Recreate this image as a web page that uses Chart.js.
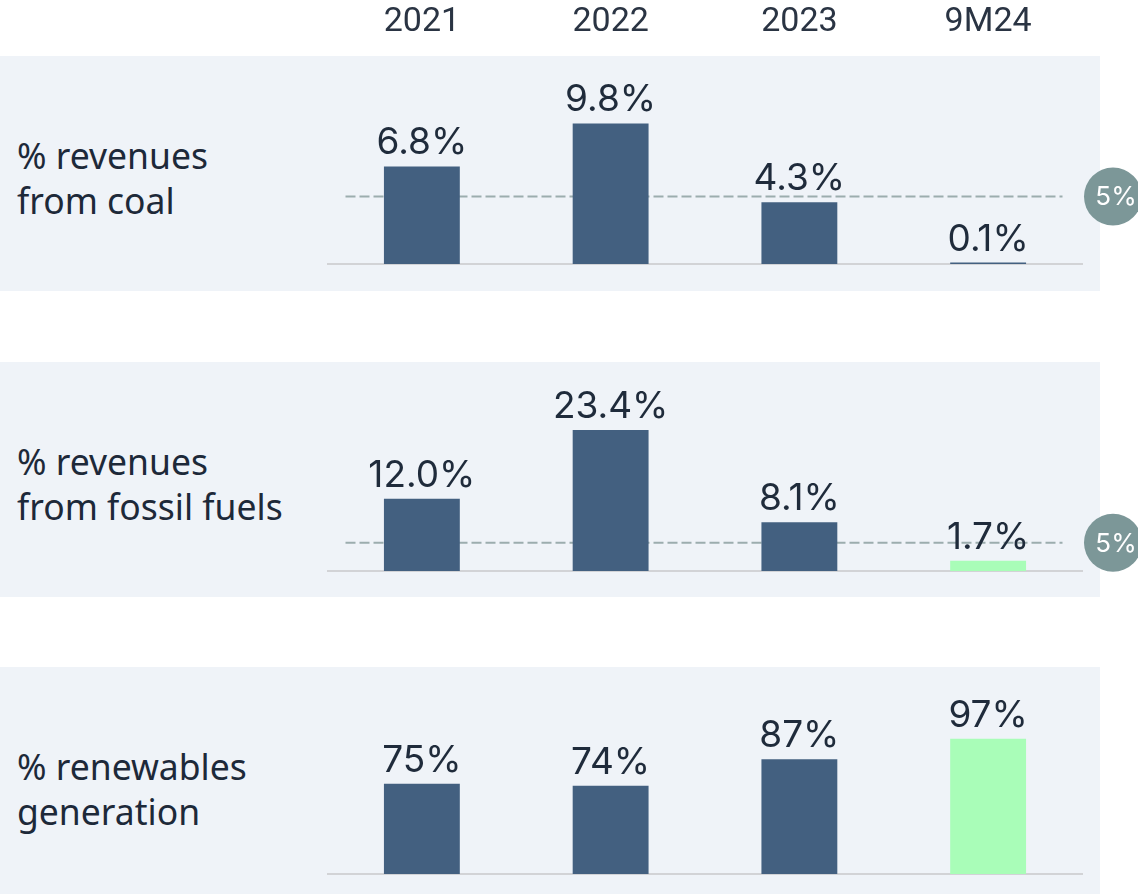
<!DOCTYPE html>
<html>
<head>
<meta charset="utf-8">
<script src="https://cdn.jsdelivr.net/npm/chart.js@4"></script>
<style>
  body { margin: 0; width: 1138px; height: 894px; position: relative; background: #fff; overflow: hidden; }
  .panel { position: absolute; left: 0; width: 1100px; background: #eff3f8; }
  canvas { position: absolute; left: 0; }
  .label { position: absolute; left: 17px; font-family: "Noto Sans"; font-size: 35.5px; line-height: 45px; color: #1d2939; }
</style>
</head>
<body>
<div class="panel" style="top:56px;height:235px"></div>
<div class="panel" style="top:362px;height:235px"></div>
<div class="panel" style="top:667px;height:227px"></div>

<div class="label" style="top:133px">% revenues<br>from coal</div>
<div class="label" style="top:439px">% revenues<br>from fossil fuels</div>
<div class="label" style="top:744px">% renewables<br>generation</div>

<canvas id="coalChart" width="1138" height="291" style="top:0"></canvas>
<canvas id="fossilChart" width="1138" height="235" style="top:362px"></canvas>
<canvas id="renewChart" width="1138" height="227" style="top:667px"></canvas>

<script>
const years = ["2021", "2022", "2023", "9M24"];
const coalShare = [6.8, 9.8, 4.3, 0.1];
const fossilShare = [12.0, 23.4, 8.1, 1.7];
const renewableShare = [75, 74, 87, 97];
const limitLine = 4.7;
const limitText = "5%";

const navy = "#436080";
const green = "#a9fdb8";
const coalColors = [navy, navy, navy, navy];
const fossilColors = [navy, navy, navy, green];
const renewColors = [navy, navy, navy, green];

// draws dashed limit line, the round badge and the value labels
function overlay(decimals, limit) {
  return {
    id: "overlay",
    beforeDatasetsDraw(chart) {
      if (limit == null) return;
      const ctx = chart.ctx;
      const x = chart.scales.x;
      const y = chart.scales.y.getPixelForValue(limit);
      ctx.save();
      ctx.strokeStyle = "#9cadae";
      ctx.lineWidth = 2;
      ctx.setLineDash([10, 4]);
      ctx.beginPath();
      ctx.moveTo(x.left + 18, y);
      ctx.lineTo(x.right - 20, y);
      ctx.stroke();
      ctx.restore();
    },
    afterDatasetsDraw(chart) {
      const ctx = chart.ctx;
      const meta = chart.getDatasetMeta(0);
      const values = chart.data.datasets[0].data;
      ctx.save();
      ctx.fillStyle = "#1f2b3b";
      ctx.font = "37px Inter";
      ctx.textAlign = "center";
      ctx.textBaseline = "alphabetic";
      meta.data.forEach((bar, i) => {
        ctx.fillText(values[i].toFixed(decimals) + "%", bar.x, bar.y - 12);
      });
      if (limit != null) {
        const y = chart.scales.y.getPixelForValue(limit);
        ctx.fillStyle = "#7c9798";
        ctx.beginPath();
        ctx.arc(1113, y, 29, 0, Math.PI * 2);
        ctx.fill();
        ctx.fillStyle = "#fff";
        ctx.font = "26px Inter";
        ctx.textBaseline = "middle";
        ctx.fillText(limitText, 1116, y + 1);
      }
      ctx.restore();
    }
  };
}

function makeChart(id, values, colors, yMin, yMax, bottomH, decimals, limit, withYears) {
  const scales = {
    x: {
      offset: true,
      grid: { display: false, drawTicks: false },
      ticks: { display: false },
      border: { display: true, color: "#d2d3d6", width: 2 },
      afterFit: s => { s.height = bottomH; }
    },
    y: { display: false, min: yMin, max: yMax }
  };
  if (withYears) {
    scales.x2 = {
      type: "category",
      labels: years,
      position: "top",
      offset: true,
      grid: { display: false, drawTicks: false },
      border: { display: false },
      ticks: { color: "#2a3443", font: { family: "Roboto", size: 34 }, padding: 13 },
      afterFit: s => { s.height = 56; }
    };
  }
  return new Chart(document.getElementById(id), {
    type: "bar",
    data: {
      labels: years,
      datasets: [{
        data: values,
        backgroundColor: colors,
        barPercentage: 0.402,
        categoryPercentage: 1
      }]
    },
    options: {
      responsive: false,
      animation: false,
      layout: { padding: { left: 327.5, right: 55.5, top: 0, bottom: 0 } },
      plugins: { legend: { display: false }, tooltip: { enabled: false } },
      scales: scales
    },
    plugins: [overlay(decimals, limit)]
  });
}

makeChart("coalChart", coalShare, coalColors, 0, 14.5, 27, 1, limitLine, true);
makeChart("fossilChart", fossilShare, fossilColors, 0, 34.7, 26, 1, limitLine, false);
makeChart("renewChart", renewableShare, renewColors, 31, 132, 20, 0, null, false);
</script>
</body>
</html>
